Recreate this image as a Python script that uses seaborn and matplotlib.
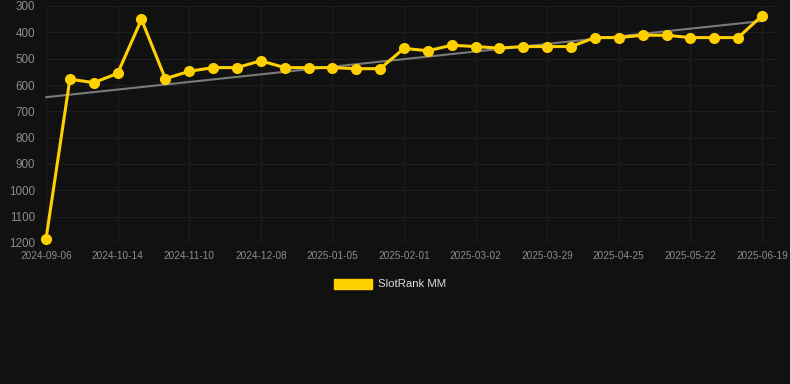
import numpy as np
import pandas as pd
import matplotlib
matplotlib.use("Agg")
import matplotlib.pyplot as plt
from matplotlib.patches import Patch
import seaborn as sns

dates = [
    "2024-09-06", "2024-09-19", "2024-10-01", "2024-10-14", "2024-10-23", "2024-11-01",
    "2024-11-10", "2024-11-19", "2024-11-28", "2024-12-08", "2024-12-17", "2024-12-26",
    "2025-01-05", "2025-01-14", "2025-01-23", "2025-02-01", "2025-02-10", "2025-02-20",
    "2025-03-02", "2025-03-11", "2025-03-20", "2025-03-29", "2025-04-07", "2025-04-16",
    "2025-04-25", "2025-05-04", "2025-05-13", "2025-05-22", "2025-05-31", "2025-06-10",
    "2025-06-19",
]
rank = [
    1185, 578, 591, 556, 351, 576, 548, 534, 534, 508, 534, 534, 534, 538, 538,
    461, 470, 449, 454, 460, 454, 454, 454, 420, 420, 411, 411, 420, 420, 420, 337,
]
series_name = "SlotRank MM"
y_ticks = [300, 400, 500, 600, 700, 800, 900, 1000, 1100, 1200]

BG = "#111111"
YELLOW = "#FFD000"
GRID = "#1e1e1e"
TICK = "#8c8c8c"

sns.set_style("dark")
plt.rcParams["font.family"] = ["Liberation Sans", "DejaVu Sans"]

df = pd.DataFrame({"idx": np.arange(len(rank)), "date": dates, "rank": rank})

fig = plt.figure(figsize=(7.9, 3.84), dpi=100, facecolor=BG)
ax = fig.add_axes([46 / 790, 1 - 243 / 384, (778 - 46) / 790, (243 - 6) / 384])
ax.set_facecolor(BG)

# trend line
coef = np.polyfit(df["idx"], df["rank"], 1)
trend = np.polyval(coef, df["idx"])
ax.plot(df["idx"], trend, color="#7a7a7a", lw=1.5, zorder=2)

sns.lineplot(data=df, x="idx", y="rank", ax=ax, color=YELLOW, lw=2.2,
             marker="o", markersize=8, markeredgewidth=0, zorder=3)
for ln in ax.lines:
    ln.set_clip_on(False)

ax.set_xlim(0, (778 - 46) / ((762 - 46) / 30))
ax.set_ylim(1200, 300)
ax.set_yticks(y_ticks)
ax.set_xticks(df["idx"][::3])
ax.set_xticklabels(df["date"][::3])
ax.tick_params(axis="y", colors=TICK, labelsize=8.4, length=0, pad=8)
ax.tick_params(axis="x", colors=TICK, labelsize=7.2, length=0, pad=6)
ax.grid(True, color=GRID, lw=0.8)
ax.axhline(1200, color="#2a2a2a", lw=0.9, zorder=1)
ax.set_xlabel("")
ax.set_ylabel("")
for s in ax.spines.values():
    s.set_visible(False)
if ax.get_legend():
    ax.get_legend().remove()

handle = Patch(facecolor=YELLOW, edgecolor=YELLOW)
leg = fig.legend([handle], [series_name], loc="center", bbox_to_anchor=(390 / 790, 1 - 284 / 384),
                 frameon=False, fontsize=8.2, handlelength=3.3, handleheight=1.0,
                 handletextpad=0.5, labelcolor="#dddddd")

fig.savefig("out.png", dpi=100, facecolor=BG)
